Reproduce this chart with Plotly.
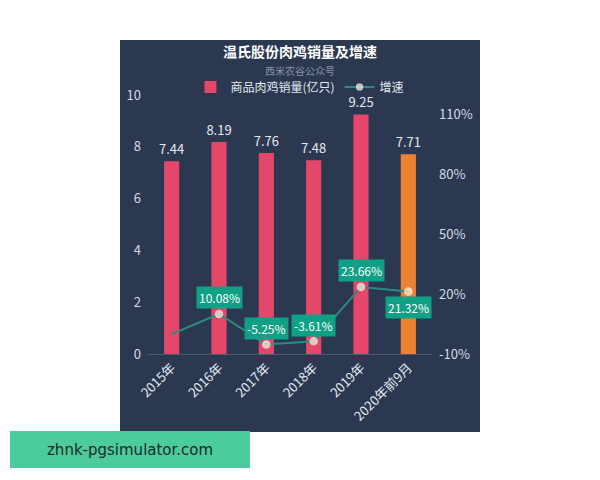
import plotly.graph_objects as go

# data
years = ["2015年", "2016年", "2017年", "2018年", "2019年", "2020年前9月"]
sales = [7.44, 8.19, 7.76, 7.48, 9.25, 7.71]          # 商品肉鸡销量(亿只)
growth = [0.0, 10.08, -5.25, -3.61, 23.66, 21.32]     # 增速 %
growth_labels = ["", "10.08%", "-5.25%", "-3.61%", "23.66%", "21.32%"]
label_below = [False, False, False, False, False, True]
left_ticks = [0, 2, 4, 6, 8, 10]
right_ticks = [-10, 20, 50, 80, 110]

navy = "#2b3850"
font_cn = "Noto Sans CJK SC"
bar_colors = ["#e5476a"] * 5 + ["#ec8233"]

fig = go.Figure()

fig.add_trace(go.Bar(
    x=years, y=sales, name="商品肉鸡销量(亿只)",
    marker=dict(color=bar_colors, line=dict(width=0)),
    text=[f"{v:.2f}" for v in sales], textposition="outside",
    textfont=dict(color="#e4e9f0", size=13),
    constraintext="none", cliponaxis=False,
))

fig.add_trace(go.Scatter(
    x=years, y=growth, name="增速", yaxis="y2",
    mode="lines+markers",
    line=dict(color="#2b8c7e", width=2),
    marker=dict(size=[0, 7, 7, 7, 7, 7], color="#fff6dc",
                line=dict(color="#ffffff", width=1.5)),
))

# growth labels
for xv, yv, txt, below in zip(years, growth, growth_labels, label_below):
    if not txt:
        continue
    fig.add_annotation(
        x=xv, y=yv, xref="x", yref="y2", text=txt, showarrow=False,
        yshift=-16 if below else 16,
        bgcolor="#10a086", borderpad=2,
        font=dict(color="#ffffff", size=12, family=font_cn),
    )

# dark panel and watermark banner
fig.add_shape(type="rect", xref="paper", yref="paper",
              x0=-0.0986, x1=1.169, y0=-0.301, y1=1.212,
              fillcolor=navy, line=dict(width=0), layer="below")
fig.add_shape(type="rect", xref="paper", yref="paper",
              x0=-0.486, x1=0.359, y0=-0.44, y1=-0.297,
              fillcolor="#4ccb9c", line=dict(width=0), layer="above")
fig.add_annotation(text="zhnk-pgsimulator.com", xref="paper", yref="paper",
                   x=-0.063, y=-0.369, xanchor="center", yanchor="middle",
                   showarrow=False,
                   font=dict(color="#1e2a2a", size=15, family="DejaVu Sans"))

fig.add_annotation(text="<b>温氏股份肉鸡销量及增速</b>", xref="paper", yref="paper",
                   x=0.535, y=1.170, xanchor="center", yanchor="middle",
                   showarrow=False,
                   font=dict(color="#ffffff", size=14, family=font_cn))
fig.add_annotation(text="西米农谷公众号", xref="paper", yref="paper",
                   x=0.535, y=1.0965, xanchor="center", yanchor="middle",
                   showarrow=False,
                   font=dict(color="#8a94a3", size=10, family=font_cn))

fig.update_layout(
    width=600, height=480,
    margin=dict(l=140, r=176, t=87, b=134, autoexpand=False),
    paper_bgcolor="#ffffff", plot_bgcolor=navy,
    font=dict(family=font_cn, color="#d6dce4", size=12),
    bargap=0.68, showlegend=True,
    legend=dict(orientation="h", x=0.535, xanchor="center", y=1.0309, yanchor="middle",
                font=dict(color="#e4e9f0", size=12), bgcolor="rgba(0,0,0,0)",
                itemwidth=30, tracegroupgap=0),
    xaxis=dict(tickangle=-45, showline=True, linecolor="#4d5a6e", linewidth=1,
               showgrid=False, ticks="", tickfont=dict(size=13, color="#e4e9f0"),
               automargin=False),
    yaxis=dict(range=[0, 10], tickvals=left_ticks, showgrid=False, zeroline=False,
               showline=False, ticks="", ticklabelstandoff=6, automargin=False,
               tickfont=dict(size=13, color="#d6dce4")),
    yaxis2=dict(range=[-10, 120], tickvals=right_ticks,
                ticktext=[f"{v}%" for v in right_ticks],
                overlaying="y", side="right", showgrid=False, zeroline=False,
                showline=False, ticks="", ticklabelstandoff=6, automargin=False,
                tickfont=dict(size=13, color="#d6dce4")),
)

fig.write_html("out.html")
